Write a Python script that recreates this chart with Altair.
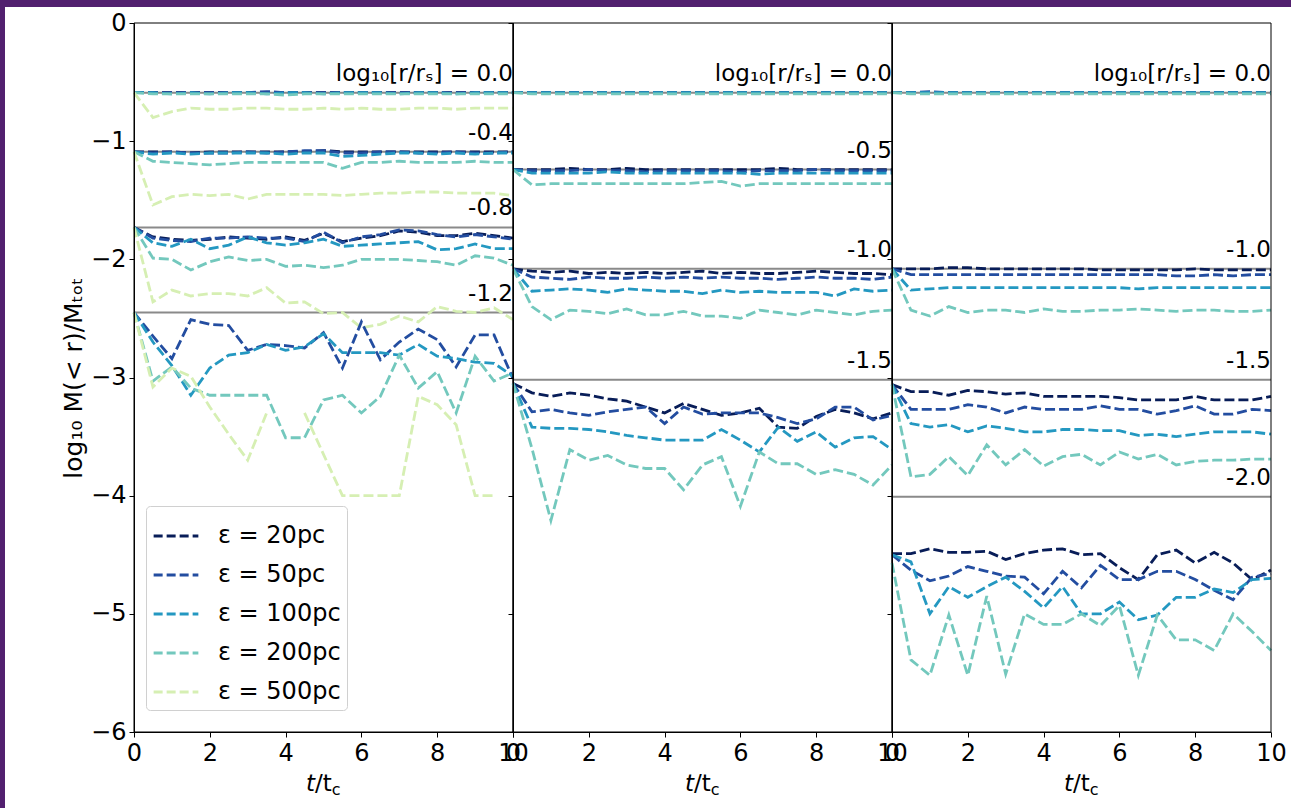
import altair as alt
import pandas as pd

# ---------------- data ----------------
T = [0, 0.5, 1, 1.5, 2, 2.5, 3, 3.5, 4, 4.5, 5, 5.5, 6, 6.5, 7, 7.5, 8, 8.5, 9, 9.5, 10]
EPS = ["20", "50", "100", "200", "500"]
EPS_LABELS = ["ε = 20pc", "ε = 50pc", "ε = 100pc", "ε = 200pc", "ε = 500pc"]
COLORS = ["#081d58", "#234da0", "#2498c1", "#73c8bd", "#d6efb3"]

# ----- left panel -----
LEFT_REF = [-0.59, -1.09, -1.73, -2.45]
LEFT_TXT = ["log₁₀[r/rₛ] = 0.0", "-0.4", "-0.8", "-1.2"]
LEFT_R0 = {
    "20": [-0.59, -0.59, -0.59, -0.59, -0.59, -0.59, -0.59, -0.59, -0.59, -0.59, -0.59, -0.59, -0.59, -0.59, -0.59, -0.59, -0.59, -0.59, -0.59, -0.59, -0.59],
    "50": [-0.59, -0.59, -0.59, -0.59, -0.59, -0.59, -0.59, -0.58, -0.59, -0.59, -0.59, -0.59, -0.59, -0.59, -0.59, -0.59, -0.59, -0.59, -0.59, -0.59, -0.59],
    "100": [-0.59, -0.59, -0.6, -0.59, -0.6, -0.59, -0.59, -0.6, -0.59, -0.59, -0.6, -0.59, -0.59, -0.59, -0.6, -0.59, -0.59, -0.6, -0.59, -0.59, -0.59],
    "200": [-0.59, -0.6, -0.6, -0.6, -0.6, -0.6, -0.6, -0.6, -0.61, -0.6, -0.6, -0.6, -0.6, -0.6, -0.6, -0.6, -0.6, -0.6, -0.6, -0.6, -0.6],
    "500": [-0.59, -0.8, -0.75, -0.72, -0.73, -0.73, -0.72, -0.72, -0.73, -0.73, -0.72, -0.73, -0.72, -0.73, -0.73, -0.72, -0.72, -0.73, -0.72, -0.72, -0.72],
}
LEFT_R1 = {
    "20": [-1.09, -1.09, -1.09, -1.1, -1.09, -1.09, -1.09, -1.09, -1.09, -1.09, -1.08, -1.09, -1.09, -1.09, -1.09, -1.09, -1.09, -1.09, -1.09, -1.09, -1.09],
    "50": [-1.09, -1.1, -1.09, -1.1, -1.1, -1.1, -1.09, -1.1, -1.09, -1.08, -1.08, -1.1, -1.1, -1.09, -1.09, -1.1, -1.1, -1.09, -1.1, -1.1, -1.09],
    "100": [-1.09, -1.11, -1.1, -1.11, -1.1, -1.1, -1.1, -1.1, -1.11, -1.1, -1.1, -1.13, -1.12, -1.11, -1.1, -1.1, -1.11, -1.1, -1.11, -1.1, -1.1],
    "200": [-1.09, -1.17, -1.18, -1.19, -1.2, -1.19, -1.18, -1.18, -1.18, -1.18, -1.18, -1.23, -1.18, -1.18, -1.17, -1.18, -1.18, -1.18, -1.17, -1.18, -1.18],
    "500": [-1.09, -1.54, -1.47, -1.45, -1.46, -1.45, -1.49, -1.45, -1.45, -1.45, -1.45, -1.46, -1.45, -1.44, -1.44, -1.43, -1.43, -1.44, -1.44, -1.44, -1.46],
}
LEFT_R2 = {
    "20": [-1.73, -1.81, -1.83, -1.84, -1.83, -1.81, -1.82, -1.83, -1.81, -1.84, -1.78, -1.85, -1.82, -1.8, -1.76, -1.77, -1.8, -1.8, -1.78, -1.8, -1.82],
    "50": [-1.73, -1.82, -1.84, -1.85, -1.82, -1.82, -1.81, -1.82, -1.82, -1.85, -1.77, -1.86, -1.81, -1.79, -1.75, -1.76, -1.79, -1.81, -1.79, -1.81, -1.83],
    "100": [-1.73, -1.86, -1.89, -1.83, -1.91, -1.88, -1.81, -1.86, -1.88, -1.86, -1.83, -1.89, -1.88, -1.87, -1.86, -1.85, -1.92, -1.91, -1.87, -1.91, -1.91],
    "200": [-1.73, -1.99, -2.0, -2.09, -2.02, -1.98, -2.01, -2.0, -2.06, -2.05, -2.07, -2.05, -2.0, -2.0, -2.0, -2.01, -2.02, -2.05, -1.97, -1.99, -2.05],
    "500": [-1.73, -2.36, -2.26, -2.31, -2.29, -2.29, -2.31, -2.24, -2.37, -2.36, -2.46, -2.45, -2.58, -2.55, -2.48, -2.53, -2.4, -2.44, -2.45, -2.41, -2.51],
}
LEFT_R3 = {
    "50": [-2.45, -2.65, -2.84, -2.51, -2.55, -2.56, -2.77, -2.72, -2.73, -2.75, -2.62, -2.92, -2.53, -2.85, -2.7, -2.59, -2.68, -2.91, -2.64, -2.64, -3.01],
    "100": [-2.45, -2.7, -2.9, -3.15, -2.92, -2.81, -2.79, -2.72, -2.77, -2.74, -2.63, -2.79, -2.79, -2.79, -2.81, -2.72, -2.82, -2.84, -2.87, -2.88, -2.99],
    "200": [-2.45, -3.03, -2.91, -3.09, -3.15, -3.15, -3.15, -3.15, -3.51, -3.51, -3.19, -3.15, -3.3, -3.16, -2.81, -3.09, -2.95, -3.3, -2.82, -3.03, -2.96],
    "500": [-2.45, -3.08, -2.92, -2.99, -3.25, -3.48, -3.7, -3.3, None, -3.3, -3.65, -4.0, -4.0, -4.0, -4.0, -3.16, -3.23, -3.4, -4.0, -4.0, None],
}

# ----- middle panel -----
MID_REF = [-0.59, -1.24, -2.08, -3.02]
MID_TXT = ["log₁₀[r/rₛ] = 0.0", "-0.5", "-1.0", "-1.5"]
MID_R0 = {
    "20": [-0.59, -0.59, -0.59, -0.59, -0.59, -0.59, -0.59, -0.59, -0.59, -0.59, -0.59, -0.59, -0.59, -0.59, -0.59, -0.59, -0.59, -0.59, -0.59, -0.59, -0.59],
    "50": [-0.59, -0.59, -0.59, -0.59, -0.59, -0.59, -0.59, -0.59, -0.59, -0.59, -0.59, -0.59, -0.59, -0.59, -0.59, -0.59, -0.59, -0.59, -0.59, -0.59, -0.59],
    "100": [-0.59, -0.59, -0.59, -0.59, -0.59, -0.59, -0.59, -0.59, -0.59, -0.59, -0.59, -0.59, -0.59, -0.59, -0.59, -0.59, -0.59, -0.59, -0.59, -0.59, -0.59],
    "200": [-0.59, -0.6, -0.6, -0.6, -0.6, -0.6, -0.6, -0.6, -0.6, -0.6, -0.6, -0.6, -0.6, -0.6, -0.6, -0.6, -0.6, -0.6, -0.6, -0.6, -0.6],
}
MID_R1 = {
    "20": [-1.24, -1.24, -1.24, -1.23, -1.24, -1.24, -1.23, -1.24, -1.24, -1.24, -1.24, -1.24, -1.24, -1.24, -1.23, -1.24, -1.24, -1.24, -1.24, -1.24, -1.24],
    "50": [-1.24, -1.25, -1.25, -1.25, -1.24, -1.25, -1.25, -1.26, -1.25, -1.25, -1.25, -1.25, -1.26, -1.25, -1.25, -1.25, -1.24, -1.25, -1.25, -1.25, -1.25],
    "100": [-1.24, -1.27, -1.27, -1.27, -1.27, -1.26, -1.27, -1.27, -1.27, -1.27, -1.27, -1.27, -1.27, -1.28, -1.27, -1.27, -1.27, -1.27, -1.27, -1.27, -1.27],
    "200": [-1.24, -1.37, -1.36, -1.36, -1.36, -1.36, -1.36, -1.36, -1.36, -1.36, -1.35, -1.34, -1.38, -1.36, -1.36, -1.36, -1.36, -1.36, -1.36, -1.36, -1.36],
}
MID_R2 = {
    "20": [-2.08, -2.1, -2.11, -2.1, -2.12, -2.11, -2.12, -2.11, -2.12, -2.11, -2.1, -2.12, -2.11, -2.12, -2.12, -2.11, -2.1, -2.11, -2.12, -2.12, -2.13],
    "50": [-2.08, -2.15, -2.16, -2.17, -2.15, -2.16, -2.16, -2.15, -2.16, -2.15, -2.16, -2.15, -2.16, -2.16, -2.17, -2.16, -2.15, -2.16, -2.16, -2.17, -2.15],
    "100": [-2.08, -2.27, -2.26, -2.25, -2.26, -2.28, -2.25, -2.26, -2.27, -2.27, -2.29, -2.26, -2.28, -2.27, -2.28, -2.28, -2.28, -2.31, -2.25, -2.27, -2.26],
    "200": [-2.08, -2.4, -2.51, -2.43, -2.44, -2.46, -2.42, -2.47, -2.47, -2.44, -2.48, -2.48, -2.5, -2.43, -2.45, -2.47, -2.43, -2.45, -2.47, -2.44, -2.43],
}
MID_R3 = {
    "20": [-3.05, -3.13, -3.16, -3.13, -3.15, -3.18, -3.2, -3.25, -3.3, -3.22, -3.27, -3.32, -3.3, -3.26, -3.42, -3.43, -3.33, -3.27, -3.3, -3.35, -3.3],
    "50": [-3.05, -3.29, -3.27, -3.3, -3.32, -3.29, -3.27, -3.25, -3.39, -3.25, -3.31, -3.3, -3.3, -3.3, -3.34, -3.39, -3.35, -3.25, -3.25, -3.36, -3.32],
    "100": [-3.05, -3.42, -3.43, -3.43, -3.44, -3.46, -3.49, -3.51, -3.53, -3.53, -3.53, -3.44, -3.53, -3.63, -3.42, -3.54, -3.46, -3.59, -3.51, -3.5, -3.61],
    "200": [-3.05, -3.6, -4.21, -3.61, -3.7, -3.66, -3.74, -3.77, -3.77, -3.95, -3.74, -3.67, -4.09, -3.63, -3.73, -3.73, -3.82, -3.78, -3.82, -3.91, -3.74],
}

# ----- right panel -----
RIGHT_REF = [-0.59, -2.08, -3.02, -4.01]
RIGHT_TXT = ["log₁₀[r/rₛ] = 0.0", "-1.0", "-1.5", "-2.0"]
RIGHT_R0 = {
    "20": [-0.59, -0.59, -0.59, -0.59, -0.59, -0.59, -0.59, -0.59, -0.59, -0.59, -0.59, -0.59, -0.59, -0.59, -0.59, -0.59, -0.59, -0.59, -0.59, -0.59, -0.59],
    "50": [-0.59, -0.59, -0.58, -0.59, -0.59, -0.59, -0.59, -0.59, -0.59, -0.59, -0.59, -0.59, -0.59, -0.59, -0.59, -0.59, -0.59, -0.59, -0.59, -0.59, -0.59],
    "100": [-0.59, -0.59, -0.59, -0.59, -0.59, -0.59, -0.59, -0.59, -0.59, -0.59, -0.59, -0.59, -0.59, -0.59, -0.59, -0.59, -0.59, -0.59, -0.59, -0.59, -0.59],
    "200": [-0.59, -0.6, -0.6, -0.6, -0.6, -0.6, -0.6, -0.6, -0.6, -0.6, -0.6, -0.6, -0.6, -0.6, -0.6, -0.6, -0.6, -0.6, -0.6, -0.6, -0.6],
}
RIGHT_R1 = {
    "20": [-2.08, -2.08, -2.08, -2.07, -2.07, -2.08, -2.08, -2.08, -2.08, -2.08, -2.08, -2.09, -2.09, -2.09, -2.09, -2.09, -2.08, -2.09, -2.09, -2.09, -2.09],
    "50": [-2.08, -2.13, -2.13, -2.13, -2.13, -2.13, -2.13, -2.13, -2.13, -2.13, -2.13, -2.13, -2.13, -2.13, -2.13, -2.14, -2.14, -2.13, -2.14, -2.13, -2.13],
    "100": [-2.08, -2.26, -2.25, -2.24, -2.24, -2.24, -2.24, -2.24, -2.24, -2.24, -2.24, -2.24, -2.24, -2.25, -2.24, -2.24, -2.24, -2.24, -2.24, -2.24, -2.24],
    "200": [-2.08, -2.43, -2.48, -2.4, -2.45, -2.43, -2.43, -2.45, -2.42, -2.44, -2.44, -2.43, -2.43, -2.42, -2.43, -2.44, -2.43, -2.43, -2.44, -2.44, -2.43],
}
RIGHT_R2 = {
    "20": [-3.06, -3.12, -3.12, -3.15, -3.11, -3.12, -3.14, -3.13, -3.16, -3.16, -3.16, -3.16, -3.17, -3.19, -3.19, -3.19, -3.16, -3.19, -3.19, -3.19, -3.16],
    "50": [-3.06, -3.27, -3.27, -3.27, -3.23, -3.25, -3.3, -3.25, -3.27, -3.27, -3.27, -3.24, -3.27, -3.27, -3.31, -3.28, -3.24, -3.31, -3.31, -3.27, -3.28],
    "100": [-3.06, -3.39, -3.42, -3.4, -3.46, -3.41, -3.43, -3.46, -3.46, -3.44, -3.44, -3.45, -3.45, -3.49, -3.48, -3.5, -3.48, -3.46, -3.46, -3.46, -3.48],
    "200": [-3.06, -3.84, -3.82, -3.67, -3.83, -3.57, -3.74, -3.61, -3.75, -3.67, -3.65, -3.74, -3.63, -3.69, -3.65, -3.74, -3.71, -3.7, -3.7, -3.69, -3.69],
}
RIGHT_R3 = {
    "20": [-4.49, -4.49, -4.45, -4.48, -4.48, -4.47, -4.54, -4.49, -4.46, -4.45, -4.5, -4.49, -4.61, -4.71, -4.5, -4.46, -4.57, -4.48, -4.57, -4.71, -4.63],
    "50": [-4.5, -4.63, -4.72, -4.68, -4.6, -4.64, -4.68, -4.69, -4.83, -4.64, -4.78, -4.59, -4.71, -4.71, -4.64, -4.64, -4.71, -4.8, -4.88, -4.69, -4.66],
    "100": [-4.5, -4.56, -5.0, -4.77, -4.86, -4.77, -4.69, -4.81, -4.95, -4.77, -5.0, -5.0, -4.9, -5.05, -5.01, -4.86, -4.86, -4.79, -4.82, -4.71, -4.7],
    "200": [-4.57, -5.39, -5.52, -5.01, -5.52, -4.85, -5.51, -5.0, -5.09, -5.09, -5.0, -5.1, -4.93, -5.52, -5.01, -5.22, -5.22, -5.31, -5.0, -5.15, -5.31],
}

X_TICKS = [0, 2, 4, 6, 8, 10]
Y_TICKS = [-6, -5, -4, -3, -2, -1, 0]

# ---------------- styling ----------------
W, H = 379, 709
FONT = "DejaVu Sans"
FS = 23
TICK_FS = 24
PURPLE = "#52206f"


def line_frame(groups):
    rows = []
    for gi, grp in enumerate(groups):
        for key, lab in zip(EPS, EPS_LABELS):
            if key not in grp:
                continue
            for t, v in zip(T, grp[key]):
                rows.append({"grp": f"g{gi}", "eps": lab, "t": t, "v": v})
    return pd.DataFrame(rows)


ONE = pd.DataFrame({"k": [0]})


def panel(groups, refs, texts, first):
    y_enc = alt.Y(
        "v:Q",
        scale=alt.Scale(domain=[-6, 0], nice=False, zero=False),
        axis=alt.Axis(
            values=Y_TICKS, labels=first, title="log₁₀ M(< r)/Mₜₒₜ" if first else None,
            labelExpr="replace(datum.label, '-', '−')",
            labelFontSize=TICK_FS, labelColor="black", labelPadding=3,
            tickSize=5, tickColor="black", domainColor="black", grid=False,
            titleFontSize=25, titleFontWeight="normal", titleColor="black", titlePadding=4,
            zindex=1,
        ),
    )
    x_enc = alt.X(
        "t:Q",
        scale=alt.Scale(domain=[0, 10], nice=False, zero=False),
        axis=alt.Axis(
            values=X_TICKS, title=None, labelFlush=False, labelFontSize=TICK_FS,
            labelColor="black", labelPadding=4, tickSize=5, tickColor="black",
            domainColor="black", grid=False, zindex=1,
        ),
    )
    ref_df = pd.DataFrame({"v": refs, "lab": texts})
    df = line_frame(groups)

    layers = []
    if first:
        layers.append(
            alt.Chart(ONE).mark_rect(fill="white", strokeWidth=0).encode(
                x=alt.value(-129), x2=alt.value(1157), y=alt.value(-16), y2=alt.value(785)
            )
        )
    layers.append(
        alt.Chart(ref_df).mark_rule(color="#8a8a8a", strokeWidth=2).encode(
            x=alt.value(0), x2=alt.value(W), y=y_enc
        )
    )
    legend = (
        alt.Legend(
            orient="none", legendX=12, legendY=483, title=None,
            labelFontSize=24, labelColor="black", labelFont=FONT,
            symbolType="stroke", symbolSize=2000, symbolStrokeWidth=2.8,
            symbolDash=[9, 4], labelOffset=18, rowPadding=3, padding=6,
            fillColor="white", strokeColor="#d0d0d0", cornerRadius=4, zindex=1,
        )
        if first
        else None
    )
    layers.append(
        alt.Chart(df).mark_line(strokeWidth=2.8, strokeDash=[10, 4]).encode(
            x=x_enc,
            y=y_enc,
            color=alt.Color(
                "eps:N", scale=alt.Scale(domain=EPS_LABELS, range=COLORS),
                sort=EPS_LABELS, legend=legend,
            ),
            detail="grp:N",
        )
    )
    layers.append(
        alt.Chart(ref_df).mark_text(
            align="right", baseline="alphabetic", dy=-12, fontSize=FS, color="black", font=FONT
        ).encode(x=alt.value(W), y=y_enc, text="lab:N")
    )
    layers.append(
        alt.Chart(ONE).mark_rect(fillOpacity=0, stroke="black", strokeWidth=1).encode(
            x=alt.value(0), x2=alt.value(W), y=alt.value(0), y2=alt.value(H)
        )
    )
    # x-axis title  t/t_c
    cx = W / 2
    layers.append(
        alt.Chart(ONE).mark_text(text="t", fontStyle="italic", align="left", baseline="alphabetic",
                                 fontSize=FS, font=FONT, color="black").encode(
            x=alt.value(cx - 17.5), y=alt.value(H + 59))
    )
    layers.append(
        alt.Chart(ONE).mark_text(text="/t", align="left", baseline="alphabetic", fontSize=FS,
                                 font=FONT, color="black").encode(
            x=alt.value(cx - 8.5), y=alt.value(H + 59))
    )
    layers.append(
        alt.Chart(ONE).mark_text(text="c", align="left", baseline="alphabetic", fontSize=16,
                                 font=FONT, color="black").encode(
            x=alt.value(cx + 8.3), y=alt.value(H + 63))
    )
    return alt.layer(*layers).properties(width=W, height=H)


p1 = panel([LEFT_R0, LEFT_R1, LEFT_R2, LEFT_R3], LEFT_REF, LEFT_TXT, True)
p2 = panel([MID_R0, MID_R1, MID_R2, MID_R3], MID_REF, MID_TXT, False)
p3 = panel([RIGHT_R0, RIGHT_R1, RIGHT_R2, RIGHT_R3], RIGHT_REF, RIGHT_TXT, False)

chart = (
    alt.hconcat(p1, p2, p3, spacing=0, bounds="flush")
    .resolve_scale(x="independent", y="independent", color="independent")
    .properties(background=PURPLE, padding={"left": 5, "top": 7, "right": 0, "bottom": 0})
    .configure(font=FONT)
    .configure_view(stroke=None)
)

chart.save("out.html", embed_options={"renderer": "svg", "actions": False})
